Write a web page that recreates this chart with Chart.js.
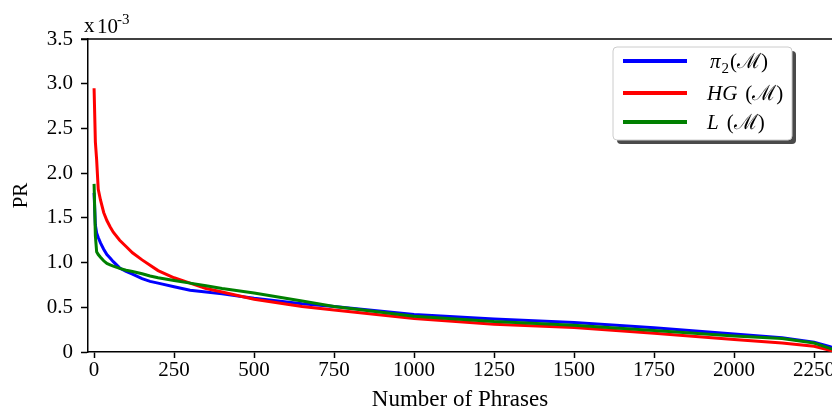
<!DOCTYPE html>
<html>
<head>
<meta charset="utf-8">
<script src="https://cdn.jsdelivr.net/npm/chart.js@4.4.1/dist/chart.umd.min.js"></script>
<style>
  html, body { margin: 0; padding: 0; background: #fff; overflow: hidden; }
</style>
</head>
<body>
<canvas id="pr-chart" width="832" height="411"></canvas>
<script>
// phrase rank, shared by all three curves
var phrases = [0, 4, 8, 13, 20, 30, 40, 50, 60, 80, 100, 120, 150, 175, 200, 250, 300, 350, 400, 500, 650, 750, 1000, 1250, 1500, 1750, 2000, 2150, 2250, 2300, 2320];

// PR values, in units of 1e-3
var piValues = [1.78, 1.42, 1.33, 1.28, 1.22, 1.15, 1.09, 1.05, 1.01, 0.94, 0.90, 0.87, 0.82, 0.79, 0.77, 0.73, 0.69, 0.67, 0.65, 0.60, 0.54, 0.51, 0.42, 0.37, 0.33, 0.27, 0.20, 0.16, 0.11, 0.06, 0.03];
var hgValues = [2.95, 2.35, 2.15, 1.82, 1.70, 1.56, 1.47, 1.40, 1.34, 1.25, 1.18, 1.11, 1.03, 0.97, 0.91, 0.83, 0.77, 0.71, 0.67, 0.59, 0.51, 0.47, 0.375, 0.31, 0.275, 0.21, 0.14, 0.10, 0.065, 0.02, 0.0];
var lValues = [1.88, 1.30, 1.12, 1.09, 1.06, 1.02, 0.99, 0.975, 0.96, 0.935, 0.915, 0.90, 0.875, 0.85, 0.83, 0.80, 0.77, 0.74, 0.71, 0.66, 0.57, 0.51, 0.40, 0.34, 0.30, 0.24, 0.18, 0.15, 0.10, 0.04, 0.02];

var xTickStep = 250;
var yTickStep = 0.5;

var serif = "'Liberation Serif', 'DejaVu Serif', serif";

function toPoints(values) {
    return values.map(function(v, i) { return { x: phrases[i], y: v }; });
}

function roundRect(ctx, x, y, w, h, r) {
    ctx.beginPath();
    ctx.moveTo(x + r, y);
    ctx.lineTo(x + w - r, y);
    ctx.quadraticCurveTo(x + w, y, x + w, y + r);
    ctx.lineTo(x + w, y + h - r);
    ctx.quadraticCurveTo(x + w, y + h, x + w - r, y + h);
    ctx.lineTo(x + r, y + h);
    ctx.quadraticCurveTo(x, y + h, x, y + h - r);
    ctx.lineTo(x, y + r);
    ctx.quadraticCurveTo(x, y, x + r, y);
    ctx.closePath();
}

// top spine, exponent note and the boxed legend
var decorations = {
    id: 'decorations',
    afterDraw: function(chart) {
        var ctx = chart.ctx;
        var area = chart.chartArea;
        ctx.save();

        ctx.strokeStyle = '#000';
        ctx.lineWidth = 1.5;
        ctx.beginPath();
        ctx.moveTo(area.left - 7, area.top);
        ctx.lineTo(area.right, area.top);
        ctx.stroke();

        ctx.fillStyle = '#000';
        ctx.textBaseline = 'alphabetic';
        ctx.font = '21px ' + serif;
        ctx.fillText('x', 84, 32);
        ctx.fillText('10', 97, 33);
        ctx.font = '15px ' + serif;
        ctx.fillText('-3', 117, 24);

        // legend box with drop shadow
        ctx.fillStyle = '#4a4a4a';
        roundRect(ctx, 617, 51, 179, 93, 4);
        ctx.fill();
        ctx.fillStyle = '#fff';
        roundRect(ctx, 613, 47, 179, 93, 4);
        ctx.fill();
        ctx.strokeStyle = '#cccccc';
        ctx.lineWidth = 1;
        ctx.stroke();

        var rows = [61, 93, 122];
        chart.data.datasets.slice().sort(function(a, b) { return a.legendRow - b.legendRow; }).forEach(function(ds, i) {
            var y = rows[i];
            ctx.strokeStyle = ds.borderColor;
            ctx.lineWidth = 4;
            ctx.beginPath();
            ctx.moveTo(623, y);
            ctx.lineTo(687, y);
            ctx.stroke();

            var x = ds.legendRow === 0 ? 710 : 707;
            ctx.fillStyle = '#000';
            ctx.font = 'italic 21px ' + serif;
            ctx.fillText(ds.mathName, x, y + 7);
            x += ctx.measureText(ds.mathName).width;
            if (ds.subscript) {
                ctx.font = '15px ' + serif;
                ctx.fillText(ds.subscript, x + 1, y + 12);
                x += ctx.measureText(ds.subscript).width + 2;
            } else {
                x += 8;
            }
            ctx.font = '21px ' + serif;
            ctx.fillText('(ℳ)', x, y + 7);
        });

        ctx.restore();
    }
};

var ctx = document.getElementById('pr-chart').getContext('2d');
var chart = new Chart(ctx, {
    type: 'line',
    data: {
        datasets: [{
            label: 'π2(M)',
            mathName: 'π',
            subscript: '2',
            legendRow: 0,
            data: toPoints(piValues),
            borderColor: '#0000ff',
            order: 3
        }, {
            label: 'HG (M)',
            mathName: 'HG',
            legendRow: 1,
            data: toPoints(hgValues),
            borderColor: '#ff0000',
            order: 2
        }, {
            label: 'L (M)',
            mathName: 'L',
            legendRow: 2,
            data: toPoints(lValues),
            borderColor: '#008000',
            order: 1
        }]
    },
    options: {
        responsive: false,
        animation: false,
        devicePixelRatio: 1,
        elements: {
            line: { borderWidth: 3, tension: 0, fill: false, borderCapStyle: 'butt' },
            point: { radius: 0 }
        },
        layout: { padding: { top: 39, right: 0, bottom: 0, left: 0 } },
        plugins: {
            legend: { display: false },
            tooltip: { enabled: false }
        },
        scales: {
            x: {
                type: 'linear',
                min: -19,
                max: 2306,
                ticks: {
                    stepSize: xTickStep,
                    includeBounds: false,
                    autoSkip: false,
                    maxRotation: 0,
                    color: '#000',
                    padding: 0,
                    font: { family: serif, size: 21 },
                    callback: function(v) { return String(v); }
                },
                grid: { display: true, drawOnChartArea: false, drawTicks: true, tickLength: 6, tickWidth: 1.5, tickColor: '#000' },
                border: { display: true, color: '#000', width: 1.5 },
                title: {
                    display: true,
                    text: 'Number of Phrases',
                    color: '#000',
                    padding: { top: 0, bottom: 0 },
                    font: { family: serif, size: 23, lineHeight: 1 }
                },
                afterFit: function(s) { s.height = 59; s.paddingLeft = 0; s.paddingRight = 0; }
            },
            y: {
                min: 0,
                max: 3.5,
                ticks: {
                    stepSize: yTickStep,
                    color: '#000',
                    padding: 8,
                    font: { family: serif, size: 21 },
                    callback: function(v) { return v === 0 ? '0' : v.toFixed(1); }
                },
                grid: { display: true, drawOnChartArea: false, drawTicks: true, tickLength: 7, tickWidth: 1.5, tickColor: '#000' },
                border: { display: true, color: '#000', width: 1.5 },
                title: {
                    display: true,
                    text: 'PR',
                    color: '#000',
                    padding: { top: 11, bottom: 0 },
                    font: { family: serif, size: 21, lineHeight: 1 }
                },
                afterFit: function(s) { s.width = 88; s.paddingTop = 0; s.paddingBottom = 0; }
            }
        }
    },
    plugins: [decorations]
});
</script>
</body>
</html>
